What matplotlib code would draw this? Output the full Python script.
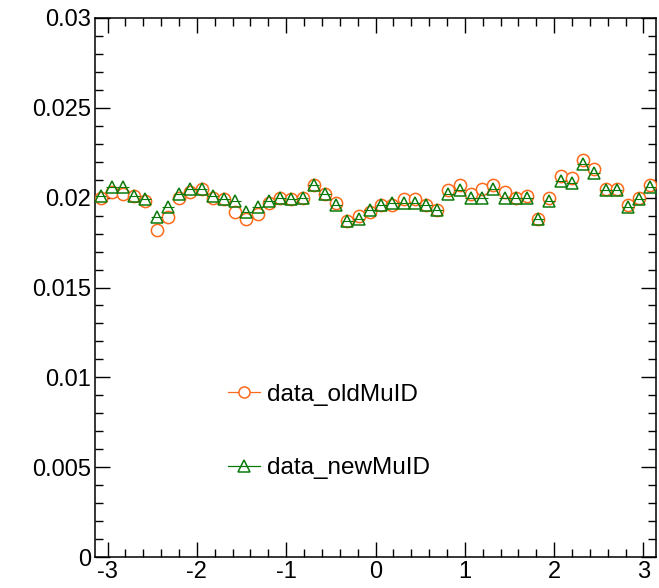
import numpy as np
import matplotlib
matplotlib.use('Agg')
from matplotlib import pyplot as plt
from matplotlib.ticker import MultipleLocator, FuncFormatter
from matplotlib.lines import Line2D

plt.rcParams['font.family'] = ['Liberation Sans', 'DejaVu Sans']

# 50 bins in phi, from -pi to pi
n_bins = 50
phi_lo, phi_hi = -np.pi, np.pi

# efficiency values, one per bin
old_muid = [0.0200, 0.0203, 0.0202, 0.0201, 0.0198, 0.0182, 0.0189, 0.0200, 0.0203, 0.0205,
            0.0200, 0.0199, 0.0192, 0.0188, 0.0191, 0.0197, 0.0200, 0.0199, 0.0200, 0.0207,
            0.0202, 0.0197, 0.0187, 0.0190, 0.0192, 0.0196, 0.0196, 0.0199, 0.0199, 0.0196,
            0.0193, 0.0204, 0.0207, 0.0202, 0.0205, 0.0207, 0.0203, 0.0200, 0.0201, 0.0188,
            0.0200, 0.0212, 0.0211, 0.0221, 0.0216, 0.0205, 0.0205, 0.0196, 0.0200, 0.0207]
new_muid = [0.0201, 0.0206, 0.0206, 0.0201, 0.0199, 0.0189, 0.0195, 0.0202, 0.0205, 0.0205,
            0.0201, 0.0199, 0.0198, 0.0192, 0.0195, 0.0198, 0.0200, 0.0199, 0.0200, 0.0207,
            0.0202, 0.0196, 0.0187, 0.0188, 0.0193, 0.0196, 0.0197, 0.0197, 0.0197, 0.0196,
            0.0193, 0.0202, 0.0204, 0.0200, 0.0200, 0.0205, 0.0200, 0.0200, 0.0200, 0.0188,
            0.0198, 0.0209, 0.0208, 0.0219, 0.0214, 0.0204, 0.0204, 0.0195, 0.0199, 0.0206]

orange = '#ff6a1a'
green = '#0b7a0b'

edges = np.linspace(phi_lo, phi_hi, n_bins + 1)
centers = 0.5 * (edges[1:] + edges[:-1])
half_w = 0.5 * (edges[1] - edges[0])

fig = plt.figure(figsize=(6.59, 5.88), dpi=100)
ax = fig.add_axes([95/659, 31/588, 561/659, 539/588])

ax.plot(centers, old_muid, ls='none', marker='o', ms=8.8, mew=1.1,
        mec=orange, mfc='white', zorder=3)
ax.errorbar(centers, new_muid, xerr=half_w, fmt='none', ecolor=green,
            elinewidth=0.8, zorder=4)
ax.plot(centers, new_muid, ls='none', marker='^', ms=8.8, mew=1.1,
        mec=green, mfc='none', zorder=5)

ax.set_xlim(phi_lo, phi_hi)
ax.set_ylim(0, 0.03)

# ROOT-like ticks on all four sides, pointing inwards
ax.xaxis.set_major_locator(MultipleLocator(1))
ax.xaxis.set_minor_locator(MultipleLocator(0.2))
ax.yaxis.set_major_locator(MultipleLocator(0.005))
ax.yaxis.set_minor_locator(MultipleLocator(0.001))
ax.yaxis.set_major_formatter(FuncFormatter(lambda v, p: '%g' % round(v, 4)))
ax.xaxis.set_major_formatter(FuncFormatter(lambda v, p: '%g' % round(v, 4)))
ax.tick_params(which='both', direction='in', top=True, right=True,
               labelsize=17, width=1.0, colors='black')
ax.tick_params(which='major', length=11)
ax.tick_params(which='minor', length=5.5)
ax.tick_params(axis='y', pad=3)
ax.tick_params(axis='x', pad=3)
for sp in ax.spines.values():
    sp.set_linewidth(1.1)

handles = [Line2D([], [], color=orange, lw=0.9, marker='o', ms=8, mew=1.1,
                  mec=orange, mfc='white'),
           Line2D([], [], color=green, lw=0.9, marker='^', ms=8, mew=1.1,
                  mec=green, mfc='none')]
ax.legend(handles, ['data_oldMuID', 'data_newMuID'], frameon=False,
          loc='center left', bbox_to_anchor=(228/659, 1 - 431.5/588),
          bbox_transform=fig.transFigure, fontsize=17.5, borderpad=0,
          borderaxespad=0, handlelength=1.3, handletextpad=0.3,
          labelspacing=2.1)

plt.savefig('out.png', dpi=100)
